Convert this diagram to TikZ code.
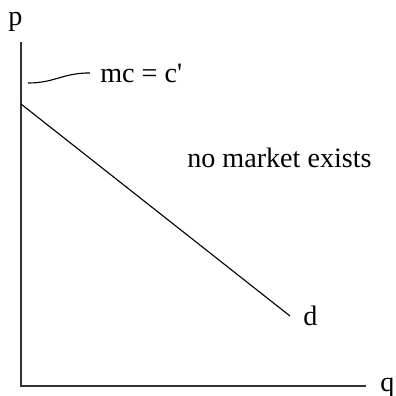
\documentclass[tikz,border=0pt]{standalone}
\usepackage{fontspec}
\setmainfont{Liberation Serif}
\newfontfamily\econfont{Liberation Serif}
\usetikzlibrary{positioning}

\begin{document}
\begin{tikzpicture}[
    x=0.025cm, y=-0.025cm,
    font=\fontsize{20}{24}\selectfont\econfont,
    axis/.style={line width=.9pt, color=black!80},
    curve/.style={line width=.8pt, color=black},
    lbl/.style={inner sep=0pt, anchor=base west}
  ]
    \useasboundingbox (0,0) rectangle (396,396);

    \coordinate (ptop) at (21,42);
    \coordinate (origin) at (21,386);
    \coordinate (qend) at (366,386);
    \draw[axis] (ptop) -- (origin) -- (qend);
    \node[lbl] (plabel) at (8,25) {p};
    \node[lbl] (qlabel) at (380,391) {q};

    \coordinate (dtop) at (21,104);
    \coordinate (dbot) at (290,316);
    \draw[curve] (dtop) -- (dbot);
    \node[lbl] (dlabel) at (303,325) {d};

    \node[lbl] (mc) at (100,82) {mc = c'};
    \coordinate (mcfoot) at (28,83);
    \draw[curve] (mcfoot) .. controls (55,83) and (62,73) .. ([xshift=-0.25cm]mc.west);

    \node[lbl] (nomarket) at (187,167) {no market exists};
  \end{tikzpicture}
\end{document}
